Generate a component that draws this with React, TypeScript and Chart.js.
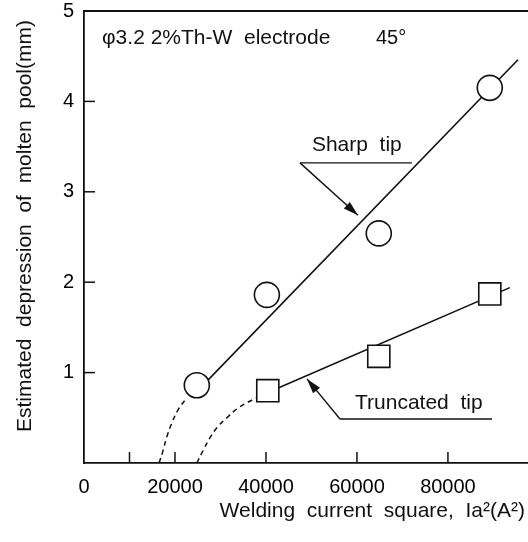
import React, { useEffect, useRef } from 'react';
import { Chart, registerables } from 'chart.js';

Chart.register(...registerables);

// ---- data ----
const sharpX = [24800, 40200, 64800, 89200];
const sharpY = [0.86, 1.86, 2.54, 4.15];
const truncX = [40400, 64800, 89200];
const truncY = [0.8, 1.18, 1.87];

const sharpFitX = [24800, 95400];
const sharpFitY = [0.79, 4.46];
const truncFitX = [40400, 93600];
const truncFitY = [0.78, 1.94];

const sharpDashX = [16500, 17400, 18200, 19300, 20700, 22600];
const sharpDashY = [0, 0.14, 0.29, 0.44, 0.59, 0.72];
const truncDashX = [24800, 26200, 27700, 29200, 31400, 33900, 37800];
const truncDashY = [0, 0.14, 0.28, 0.39, 0.5, 0.61, 0.72];

const xTickValues = [0, 20000, 40000, 60000, 80000];
const xTickLabels = ['0', '20000', '40000', '60000', '80000'];
const xTickMarks = [10000, 20000, 40000, 60000, 80000];
const yTickValues = [1, 2, 3, 4, 5];
const yTickLabels = ['1', '2', '3', '4', '5'];
const yTickMarks = [1, 2, 3, 4];

const titleParts = ['φ3.2 2%Th-W  electrode', '45°'];
const xTitle = 'Welding  current  square,  Ia²(A²)';
const yTitle = 'Estimated  depression  of  molten  pool(mm)';

const sharpLabel = 'Sharp  tip';
const truncLabel = 'Truncated  tip';
// annotation anchors in data units
const sharpNote = { textX: 50100, textY: 3.51, lineX0: 47480, lineX1: 72090, lineY: 3.32, tipX: 60220, tipY: 2.74 };
const truncNote = { textX: 59570, textY: 0.66, lineX0: 56270, lineX1: 89680, lineY: 0.487, tipX: 49020, tipY: 0.93 };

const FONT = '"Liberation Sans", Arial, sans-serif';

const toXY = (xs: number[], ys: number[]) => xs.map((x, i) => ({ x, y: ys[i] }));

function drawArrow(ctx: CanvasRenderingContext2D, x0: number, y0: number, x1: number, y1: number) {
  ctx.beginPath();
  ctx.moveTo(x0, y0);
  ctx.lineTo(x1, y1);
  ctx.stroke();
  const ang = Math.atan2(y1 - y0, x1 - x0);
  const len = 15;
  const hw = 4.5;
  const bx = x1 - len * Math.cos(ang);
  const by = y1 - len * Math.sin(ang);
  ctx.beginPath();
  ctx.moveTo(x1, y1);
  ctx.lineTo(bx + hw * Math.sin(ang), by - hw * Math.cos(ang));
  ctx.lineTo(bx - hw * Math.sin(ang), by + hw * Math.cos(ang));
  ctx.closePath();
  ctx.fill();
}

const decorPlugin = {
  id: 'decor',
  afterDraw(chart: any) {
    const { ctx, chartArea, scales } = chart;
    const xs = scales.x;
    const ys = scales.y;
    ctx.save();
    ctx.strokeStyle = '#111';
    ctx.fillStyle = '#111';
    // top border
    ctx.lineWidth = 1.8;
    ctx.beginPath();
    ctx.moveTo(chartArea.left, chartArea.top);
    ctx.lineTo(chartArea.right, chartArea.top);
    ctx.stroke();
    // inward tick marks
    ctx.lineWidth = 1.5;
    xTickMarks.forEach((v) => {
      const px = xs.getPixelForValue(v);
      ctx.beginPath();
      ctx.moveTo(px, chartArea.bottom);
      ctx.lineTo(px, chartArea.bottom - 11);
      ctx.stroke();
    });
    yTickMarks.forEach((v) => {
      const py = ys.getPixelForValue(v);
      ctx.beginPath();
      ctx.moveTo(chartArea.left, py);
      ctx.lineTo(chartArea.left + 11, py);
      ctx.stroke();
    });
    // title
    ctx.font = `21px ${FONT}`;
    ctx.textAlign = 'left';
    ctx.textBaseline = 'middle';
    ctx.fillText(titleParts[0], chartArea.left + 18, chartArea.top + 27);
    ctx.font = `20px ${FONT}`;
    ctx.fillText(titleParts[1], chartArea.left + 292, chartArea.top + 27);

    // annotations
    ctx.lineWidth = 1.4;
    ctx.font = `21px ${FONT}`;
    [[sharpNote, sharpLabel], [truncNote, truncLabel]].forEach(([n, label]: any) => {
      ctx.fillText(label, xs.getPixelForValue(n.textX), ys.getPixelForValue(n.textY));
      const lx0 = xs.getPixelForValue(n.lineX0);
      const lx1 = xs.getPixelForValue(n.lineX1);
      const ly = ys.getPixelForValue(n.lineY);
      ctx.beginPath();
      ctx.moveTo(lx0, ly);
      ctx.lineTo(lx1, ly);
      ctx.stroke();
      drawArrow(ctx, lx0, ly, xs.getPixelForValue(n.tipX), ys.getPixelForValue(n.tipY));
    });

    // axis titles
    ctx.font = `21px ${FONT}`;
    ctx.textAlign = 'right';
    ctx.textBaseline = 'middle';
    ctx.fillText(xTitle, 525, 511);
    ctx.save();
    ctx.translate(25, 226);
    ctx.rotate(-Math.PI / 2);
    ctx.textAlign = 'center';
    ctx.fillText(yTitle, 0, 0);
    ctx.restore();
    ctx.restore();
  },
};

export default function App() {
  const ref = useRef<HTMLCanvasElement>(null);
  useEffect(() => {
    if (!ref.current) return;
    const common = { showLine: true, pointRadius: 0, borderColor: '#111', fill: false };
    const chart = new Chart(ref.current, {
      type: 'scatter',
      data: {
        datasets: [
          {
            label: 'Sharp tip',
            data: toXY(sharpX, sharpY),
            pointStyle: 'circle',
            pointRadius: 12.5,
            pointBackgroundColor: '#fff',
            pointBorderColor: '#111',
            pointBorderWidth: 1.6,
            showLine: false,
          },
          {
            label: 'Truncated tip',
            data: toXY(truncX, truncY),
            pointStyle: 'rect',
            pointRadius: 15.6,
            pointBackgroundColor: '#fff',
            pointBorderColor: '#111',
            pointBorderWidth: 1.6,
            showLine: false,
          },
          { ...common, label: 'Sharp fit', data: toXY(sharpFitX, sharpFitY), borderWidth: 1.6 },
          { ...common, label: 'Truncated fit', data: toXY(truncFitX, truncFitY), borderWidth: 1.6 },
          { ...common, label: 'Sharp ext', data: toXY(sharpDashX, sharpDashY), borderWidth: 1.5, borderDash: [5, 4], tension: 0.4 },
          { ...common, label: 'Truncated ext', data: toXY(truncDashX, truncDashY), borderWidth: 1.5, borderDash: [5, 4], tension: 0.4 },
        ],
      },
      options: {
        responsive: false,
        animation: false,
        layout: { autoPadding: false, padding: { top: 11, right: 0, left: 0, bottom: 0 } },
        plugins: { legend: { display: false }, tooltip: { enabled: false } },
        scales: {
          x: {
            type: 'linear',
            min: 0,
            max: 97600,
            grid: { display: false, drawTicks: false },
            border: { display: true, color: '#111', width: 1.8 },
            ticks: {
              padding: 12,
              color: '#000',
              font: { size: 20, family: FONT },
              maxRotation: 0,
              autoSkip: false,
              callback: (v: any) => {
                const i = xTickValues.indexOf(Number(v));
                return i >= 0 ? xTickLabels[i] : '';
              },
            },
            afterBuildTicks: (s: any) => {
              s.ticks = xTickValues.map((value) => ({ value }));
            },
            afterFit: (s: any) => {
              s.height = 79;
              s.paddingLeft = 0;
              s.paddingRight = 0;
            },
          },
          y: {
            type: 'linear',
            min: 0,
            max: 5,
            grid: { display: false, drawTicks: false },
            border: { display: true, color: '#111', width: 1.8 },
            ticks: {
              padding: 10,
              color: '#000',
              font: { size: 20, family: FONT },
              callback: (v: any) => {
                const i = yTickValues.indexOf(Number(v));
                return i >= 0 ? yTickLabels[i] : '';
              },
            },
            afterBuildTicks: (s: any) => {
              s.ticks = yTickValues.map((value) => ({ value }));
            },
            afterFit: (s: any) => {
              s.width = 84;
              s.paddingTop = 0;
              s.paddingBottom = 0;
            },
          },
        },
      },
      plugins: [decorPlugin],
    });
    return () => chart.destroy();
  }, []);
  return (
    <div style={{ position: 'fixed', left: 0, top: 0, width: 528, height: 542, background: '#fff' }}>
      <canvas ref={ref} width={528} height={542} style={{ display: 'block' }} />
    </div>
  );
}
